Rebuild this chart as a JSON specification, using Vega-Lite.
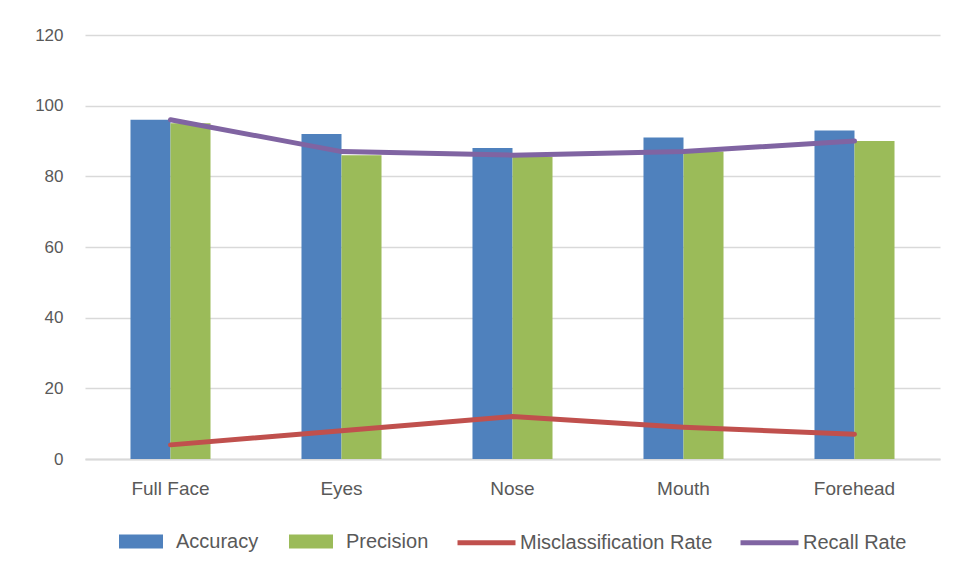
{
  "$schema": "https://vega.github.io/schema/vega-lite/v6.json",
  "width": 855,
  "height": 424,
  "autosize": {"type": "none"},
  "padding": {"left": 85, "top": 35, "right": 18, "bottom": 120},
  "background": "white",
  "data": {
    "values": [
      {"part": "Full Face", "series": "Accuracy", "value": 96},
      {"part": "Full Face", "series": "Precision", "value": 95},
      {"part": "Full Face", "series": "Misclassification Rate", "value": 4},
      {"part": "Full Face", "series": "Recall Rate", "value": 96},
      {"part": "Eyes", "series": "Accuracy", "value": 92},
      {"part": "Eyes", "series": "Precision", "value": 86},
      {"part": "Eyes", "series": "Misclassification Rate", "value": 8},
      {"part": "Eyes", "series": "Recall Rate", "value": 87},
      {"part": "Nose", "series": "Accuracy", "value": 88},
      {"part": "Nose", "series": "Precision", "value": 85.5},
      {"part": "Nose", "series": "Misclassification Rate", "value": 12},
      {"part": "Nose", "series": "Recall Rate", "value": 86},
      {"part": "Mouth", "series": "Accuracy", "value": 91},
      {"part": "Mouth", "series": "Precision", "value": 87},
      {"part": "Mouth", "series": "Misclassification Rate", "value": 9},
      {"part": "Mouth", "series": "Recall Rate", "value": 87},
      {"part": "Forehead", "series": "Accuracy", "value": 93},
      {"part": "Forehead", "series": "Precision", "value": 90},
      {"part": "Forehead", "series": "Misclassification Rate", "value": 7},
      {"part": "Forehead", "series": "Recall Rate", "value": 90}
    ]
  },
  "encoding": {
    "x": {
      "field": "part",
      "type": "nominal",
      "sort": ["Full Face", "Eyes", "Nose", "Mouth", "Forehead"],
      "scale": {"paddingInner": 0.532, "paddingOuter": 0.266},
      "axis": {
        "title": null,
        "labelAngle": 0,
        "labelFont": "Liberation Sans",
        "labelFontSize": 19,
        "labelColor": "#595959",
        "labelPadding": 20,
        "ticks": false,
        "domainColor": "#D9D9D9",
        "domainWidth": 2,
        "grid": false
      }
    },
    "y": {
      "field": "value",
      "type": "quantitative",
      "scale": {"domain": [0, 120]},
      "axis": {
        "title": null,
        "values": [0, 20, 40, 60, 80, 100, 120],
        "labelFont": "Liberation Sans",
        "labelFontSize": 17,
        "labelColor": "#595959",
        "labelPadding": 22,
        "ticks": false,
        "domain": false,
        "gridColor": "#D9D9D9",
        "gridWidth": 1.5
      }
    }
  },
  "layer": [
    {
      "transform": [{"filter": "datum.series === 'Accuracy' || datum.series === 'Precision'"}],
      "mark": {"type": "bar"},
      "encoding": {
        "xOffset": {"field": "series", "type": "nominal", "sort": ["Accuracy", "Precision"]},
        "fill": {
          "field": "series",
          "type": "nominal",
          "sort": ["Accuracy", "Precision"],
          "scale": {"domain": ["Accuracy", "Precision"], "range": ["#4F81BD", "#9BBB59"]},
          "legend": {
            "title": null,
            "orient": "bottom",
            "direction": "horizontal",
            "symbolType": "M-1,-0.318H1V0.318H-1Z",
            "symbolSize": 1936,
            "symbolStrokeWidth": 0,
            "labelFont": "Liberation Sans",
            "labelFontSize": 20,
            "labelColor": "#595959",
            "labelOffset": 13,
            "labelLimit": 300,
            "columnPadding": 30,
            "offset": 20
          }
        }
      }
    },
    {
      "transform": [{"filter": "datum.series === 'Misclassification Rate' || datum.series === 'Recall Rate'"}],
      "mark": {"type": "line", "strokeWidth": 5, "strokeCap": "round"},
      "encoding": {
        "detail": {"field": "series", "type": "nominal"},
        "stroke": {
          "field": "series",
          "type": "nominal",
          "scale": {"domain": ["Misclassification Rate", "Recall Rate"], "range": ["#C0504D", "#8064A2"]},
          "legend": {
            "title": null,
            "orient": "bottom",
            "direction": "horizontal",
            "symbolType": "M-1.318,0H1.318",
            "symbolSize": 1936,
            "symbolStrokeWidth": 5,
            "labelFont": "Liberation Sans",
            "labelFontSize": 20,
            "labelColor": "#595959",
            "labelOffset": 9,
            "labelLimit": 300,
            "columnPadding": 17,
            "offset": 20
          }
        }
      }
    }
  ],
  "config": {
    "view": {"stroke": null},
    "legend": {
      "layout": {
        "bottom": {"anchor": "middle", "direction": "horizontal", "margin": 33, "center": true}
      }
    }
  }
}
